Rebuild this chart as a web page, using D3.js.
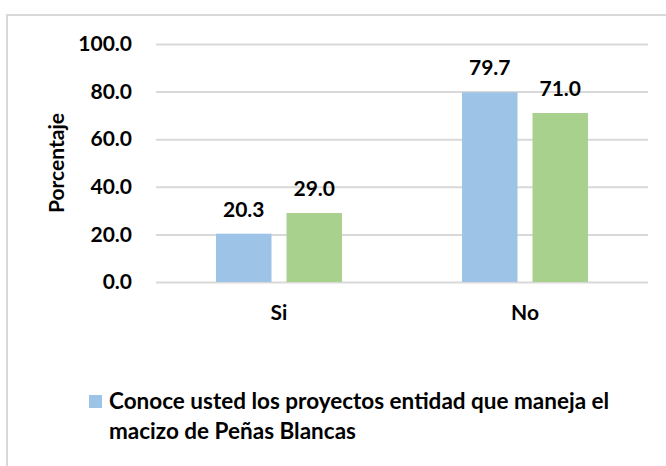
<!DOCTYPE html>
<html>
<head>
<meta charset="utf-8">
<script src="https://cdn.jsdelivr.net/npm/d3@7"></script>
<style>
  html, body { margin: 0; padding: 0; background: #fff; }
  svg { display: block; font-family: Lato, "Open Sans", sans-serif; font-weight: 700; }
</style>
</head>
<body>
<svg id="chart" width="666" height="466"></svg>
<script>
// chart values
const categories = ["Si", "No"];
const seriesNames = ["Conoce usted los proyectos entidad que maneja el macizo de Peñas Blancas", ""];
const conoceValues = [20.3, 79.7];
const otherValues = [29.0, 71.0];
const yTicks = [0, 20, 40, 60, 80, 100];

const seriesColors = ["#9DC3E6", "#A9D18E"];
const series = [conoceValues, otherValues];

const svg = d3.select("#chart");

// outer chart frame (runs off the right and bottom edge like the reference)
svg.append("rect")
    .attr("x", 7).attr("y", 15)
    .attr("width", 700).attr("height", 500)
    .style("fill", "none")
    .style("stroke", "#D9D9D9")
    .style("stroke-width", 2);

// Scales
let x0 = d3.scaleBand()
    .domain(categories)
    .range([156, 648])
    .paddingInner(0.488)
    .paddingOuter(0.244);

let x1 = d3.scaleBand()
    .domain([0, 1])
    .range([0, x0.bandwidth()])
    .paddingInner(0.213);

let y = d3.scaleLinear()
    .domain([0, 100])
    .range([282, 44]);

// gridlines + y labels
let yAxis = svg.append("g")
    .attr("transform", "translate(156,0)")
    .call(d3.axisLeft(y).tickValues(yTicks).tickFormat(d3.format(".1f"))
        .tickSize(-492).tickPadding(24));
yAxis.select(".domain").remove();
yAxis.selectAll("line").style("stroke", "#D9D9D9").style("stroke-width", 2);
yAxis.selectAll("text")
    .style("font-family", "Lato, sans-serif")
    .style("font-weight", 700)
    .style("font-size", "21px")
    .style("fill", "#000");

// bars
series.forEach(function(vals, s) {
    svg.append("g").selectAll("rect")
        .data(vals)
        .enter()
        .append("rect")
        .attr("x", function(d, i) { return x0(categories[i]) + x1(s); })
        .attr("y", function(d) { return y(d); })
        .attr("width", x1.bandwidth())
        .attr("height", function(d) { return y(0) - y(d); })
        .style("fill", seriesColors[s]);

    // value labels above each bar
    svg.append("g").selectAll("text")
        .data(vals)
        .enter()
        .append("text")
        .attr("x", function(d, i) { return x0(categories[i]) + x1(s) + x1.bandwidth() / 2; })
        .attr("y", function(d) { return y(d) - 17; })
        .attr("text-anchor", "middle")
        .style("font-size", "21px")
        .text(function(d) { return d.toFixed(1); });
});

// category labels
svg.append("g").selectAll("text")
    .data(categories)
    .enter()
    .append("text")
    .attr("x", function(d) { return x0(d) + x0.bandwidth() / 2; })
    .attr("y", 320)
    .attr("text-anchor", "middle")
    .style("font-size", "21px")
    .text(function(d) { return d; });

// y axis title
svg.append("text")
    .attr("transform", "translate(64,163) rotate(-90)")
    .attr("text-anchor", "middle")
    .style("font-size", "21px")
    .text("Porcentaje");

// legend (only the first series is shown)
svg.append("rect")
    .attr("x", 89).attr("y", 395)
    .attr("width", 13).attr("height", 13)
    .style("fill", seriesColors[0]);

let legendText = svg.append("text")
    .attr("x", 109).attr("y", 409)
    .style("font-size", "22.5px");
legendText.append("tspan").attr("x", 109).text("Conoce usted los proyectos entidad que maneja el");
legendText.append("tspan").attr("x", 109).attr("dy", 30).text("macizo de Peñas Blancas");
</script>
</body>
</html>
